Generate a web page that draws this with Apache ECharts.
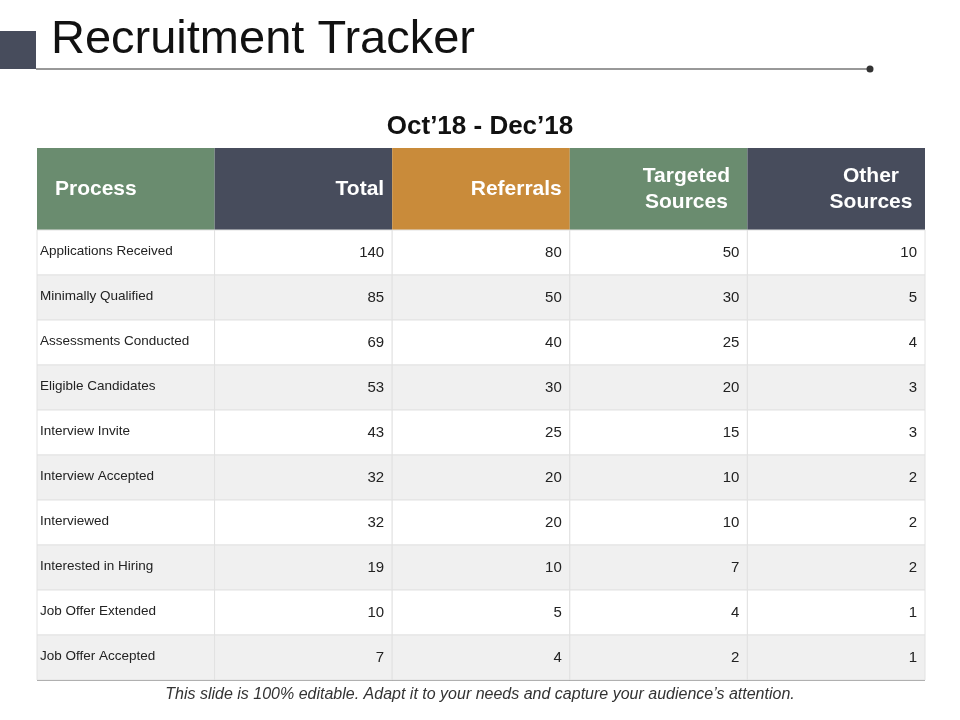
<!DOCTYPE html>
<html><head><meta charset="utf-8">
<script src="https://cdn.jsdelivr.net/npm/echarts@6/dist/echarts.min.js"></script>
<style>html,body{margin:0;padding:0;background:#fff}#chart{width:960px;height:720px}</style>
</head><body><div id="chart"></div>
<script>
var headers = ['Process', 'Total', 'Referrals', 'Targeted\nSources', 'Other\nSources'];
var headerColors = ['#6a8c6f', '#474c5c', '#c98b3a', '#6a8c6f', '#474c5c'];
var processes = ['Applications Received', 'Minimally Qualified', 'Assessments Conducted', 'Eligible Candidates',
  'Interview Invite', 'Interview Accepted', 'Interviewed', 'Interested in Hiring', 'Job Offer Extended', 'Job Offer Accepted'];
var total = [140, 85, 69, 53, 43, 32, 32, 19, 10, 7];
var referrals = [80, 50, 40, 30, 25, 20, 20, 10, 5, 4];
var targeted = [50, 30, 25, 20, 15, 10, 10, 7, 4, 2];
var other = [10, 5, 4, 3, 3, 2, 2, 2, 1, 1];

var HEAD = 82, ROW = 45;
var cells = [];
headers.forEach(function (h, c) { cells.push([c, -1, h]); });
processes.forEach(function (p, r) {
  cells.push([0, r, p]);
  [total, referrals, targeted, other].forEach(function (arr, k) { cells.push([k + 1, r, String(arr[r])]); });
});

var chart = echarts.init(document.getElementById('chart'));
chart.setOption({
  animation: false,
  title: [{
    text: 'Recruitment Tracker', left: 46, top: 12,
    textStyle: { fontFamily: 'Liberation Sans', fontSize: 47, fontWeight: 'normal', color: '#111' }
  }, {
    text: 'Oct\u201918 - Dec\u201918', left: 'center', top: 109,
    textStyle: { fontFamily: 'Liberation Sans', fontSize: 26, fontWeight: 'bold', color: '#111' }
  }],
  graphic: [
    { type: 'rect', shape: { x: 0, y: 31, width: 36, height: 38 }, style: { fill: '#474c5c' } },
    { type: 'line', shape: { x1: 36, y1: 69, x2: 870, y2: 69 }, style: { stroke: '#333', lineWidth: 1 } },
    { type: 'circle', shape: { cx: 870, cy: 69, r: 3.5 }, style: { fill: '#333' } },
    { type: 'line', shape: { x1: 37, y1: 680, x2: 925, y2: 680 }, style: { stroke: '#555', lineWidth: 1.5 } },
    { type: 'text', left: 'center', top: 687, style: {
      text: 'This slide is 100% editable. Adapt it to your needs and capture your audience\u2019s attention.',
      font: 'italic 16px Liberation Sans', fill: '#333' } }
  ],
  grid: { left: 37, right: 35, top: 148, bottom: 40 },
  xAxis: { type: 'value', min: 0, max: 5, show: false },
  yAxis: { type: 'value', min: 0, max: HEAD + ROW * 10, inverse: true, show: false },
  series: [{
    type: 'custom',
    data: cells,
    renderItem: function (params, api) {
      var c = api.value(0), r = api.value(1);
      var y0 = r < 0 ? 0 : HEAD + ROW * r, y1 = r < 0 ? HEAD : HEAD + ROW * (r + 1);
      var p0 = api.coord([c, y0]), p1 = api.coord([c + 1, y1]);
      var w = p1[0] - p0[0], h = p1[1] - p0[1];
      var text = cells[params.dataIndex][2];
      var fill, font, color = '#222', align = 'right', tx = p1[0] - 8, ty = p0[1] + h / 2;
      if (r < 0) {
        fill = headerColors[c]; color = '#fff'; font = 'bold 21px Liberation Sans';
        if (c === 0) { align = 'left'; tx = p0[0] + 18; }
        else if (text.indexOf('\n') >= 0) { align = 'center'; tx = p1[0] - 8 - (c === 3 ? 53 : 46); }
      } else {
        fill = r % 2 === 0 ? '#ffffff' : '#f0f0f0';
        if (c === 0) { align = 'left'; tx = p0[0] + 3; font = '13.5px Liberation Sans'; ty -= 1; }
        else font = '15px Liberation Sans';
      }
      return {
        type: 'group',
        children: [
          { type: 'rect', shape: { x: p0[0], y: p0[1], width: w, height: h },
            style: { fill: fill, stroke: r < 0 ? fill : '#e2e2e2', lineWidth: r < 0 ? 0 : 1 } },
          { type: 'text', style: { text: text, x: tx, y: ty,
            align: align, verticalAlign: 'middle', font: font, fill: color, lineHeight: 26 } }
        ]
      };
    }
  }]
});
</script></body></html>
